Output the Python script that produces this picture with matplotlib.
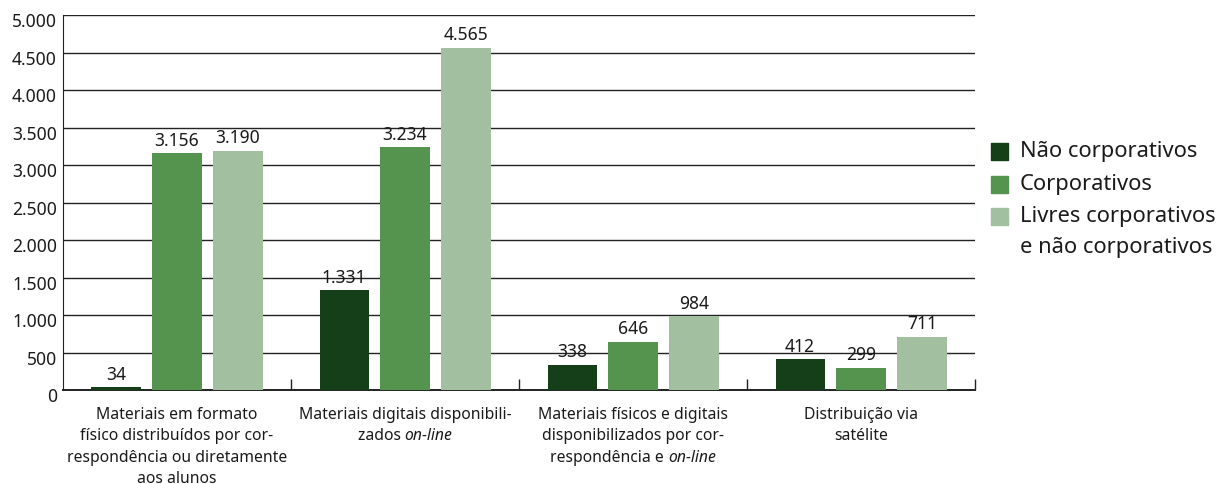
import matplotlib
matplotlib.use("Agg")
import matplotlib.pyplot as plt
from matplotlib.patches import Rectangle
from matplotlib.ticker import FixedLocator, NullFormatter
from matplotlib.transforms import blended_transform_factory, ScaledTranslation
import numpy as np

plt.rcParams["font.family"] = ["Noto Sans", "DejaVu Sans"]

# Category labels: each line is a list of (text, italic) segments
categories = [
    [[("Materiais em formato", False)],
     [("físico distribuídos por cor-", False)],
     [("respondência ou diretamente", False)],
     [("aos alunos", False)]],
    [[("Materiais digitais disponibili-", False)],
     [("zados ", False), ("on-line", True)]],
    [[("Materiais físicos e digitais", False)],
     [("disponibilizados por cor-", False)],
     [("respondência e ", False), ("on-line", True)]],
    [[("Distribuição via", False)],
     [("satélite", False)]],
]
series_names = ["Não corporativos", "Corporativos", "Livres corporativos\ne não corporativos"]
nao_corporativos = [34, 1331, 338, 412]
corporativos = [3156, 3234, 646, 299]
livres = [3190, 4565, 984, 711]
yticks = [0, 500, 1000, 1500, 2000, 2500, 3000, 3500, 4000, 4500, 5000]

colors = ["#153f18", "#55944f", "#a2bf9f"]
series = [nao_corporativos, corporativos, livres]
TXT = "#1a1a1a"
NUM_SIZE = 12.6
CAT_SIZE = 11.3
LEG_SIZE = 15.8


def fmt(v):
    return f"{int(v):,}".replace(",", ".")


W, H = 1219, 485
fig = plt.figure(figsize=(W / 100, H / 100), dpi=100)
ax = fig.add_axes([63 / W, 94 / H, 912 / W, 375 / H])

x = np.arange(len(categories))
offset = 0.2675
width = 0.215
for i, (vals, c) in enumerate(zip(series, colors)):
    pos = x + (i - 1) * offset
    bars = ax.bar(pos, vals, width=width, color=c, zorder=3, label=series_names[i])
    for b, v in zip(bars, vals):
        ax.annotate(fmt(v), (b.get_x() + b.get_width() / 2, v), xytext=(0, 6),
                    textcoords="offset points", ha="center", va="baseline",
                    fontsize=NUM_SIZE, color=TXT)

ax.set_xlim(-0.5, 3.5)
ax.set_ylim(0, 5000)
ax.set_yticks(yticks)
ax.yaxis.set_major_formatter(NullFormatter())
ax.tick_params(axis="y", length=0)
ax.yaxis.grid(True, color="#222222", lw=1.0, zorder=0)

# y labels sit just below their grid lines
ytrans = blended_transform_factory(ax.transAxes, ax.transData) + \
    ScaledTranslation(-6 / 100, -6.5 / 100, fig.dpi_scale_trans)
for v in yticks:
    ax.text(0, v, fmt(v), transform=ytrans, ha="right", va="center",
            fontsize=NUM_SIZE, color=TXT)

ax.set_xticks(x)
ax.xaxis.set_major_formatter(NullFormatter())
ax.tick_params(axis="x", which="major", length=0)
ax.xaxis.set_minor_locator(FixedLocator([0.5, 1.5, 2.5, 3.5]))
ax.tick_params(axis="x", which="minor", direction="in", length=8, width=1, color="#222222")

for s in ["top", "right"]:
    ax.spines[s].set_visible(False)
ax.spines["left"].set_color("#222222")
ax.spines["bottom"].set_color("#222222")
ax.spines["bottom"].set_linewidth(1.4)

# category labels, built segment by segment so italic words stay inline
renderer = fig.canvas.get_renderer()
line_gap = 21.3
first_line = 24
for xi, lines in zip(x, categories):
    for li, segs in enumerate(lines):
        dy = -(first_line + li * line_gap) / 100
        widths = []
        for t, it in segs:
            tmp = fig.text(0, 0, t, fontsize=CAT_SIZE, style="italic" if it else "normal")
            widths.append(tmp.get_window_extent(renderer).width)
            tmp.remove()
        total = sum(widths)
        cur = -total / 2
        for (t, it), w in zip(segs, widths):
            tr = blended_transform_factory(ax.transData, ax.transAxes) + \
                ScaledTranslation(cur / 100, dy, fig.dpi_scale_trans)
            ax.text(xi, 0, t, transform=tr, ha="left", va="center",
                    fontsize=CAT_SIZE, style="italic" if it else "normal",
                    color=TXT, clip_on=False)
            cur += w

# legend drawn in figure pixels
legend_rows = [152, 185, 217]
for name, c, yc in zip(series_names, colors, legend_rows):
    fig.patches.append(Rectangle((991 / W, (H - yc - 8.5) / H), 17 / W, 17 / H,
                                 transform=fig.transFigure, color=c))
    for k, part in enumerate(name.split("\n")):
        fig.text(1020 / W, (H - yc - k * 31) / H, part, fontsize=LEG_SIZE,
                 va="center", ha="left", color=TXT)

fig.savefig("out.png", dpi=100)
